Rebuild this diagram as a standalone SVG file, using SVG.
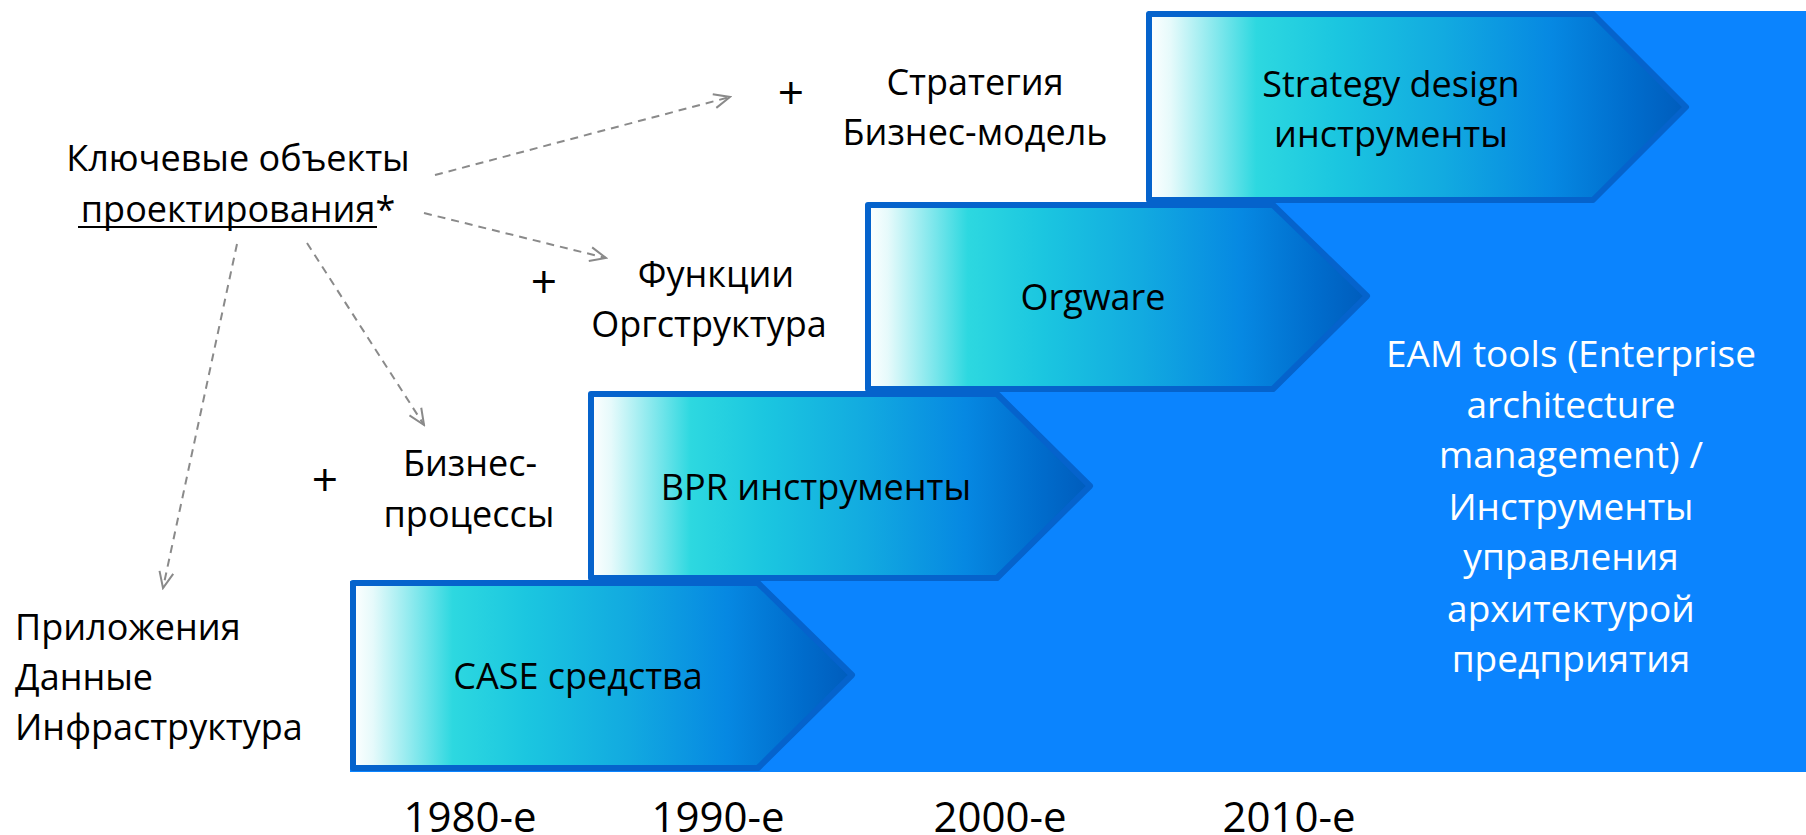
<svg xmlns="http://www.w3.org/2000/svg" width="1806" height="835" viewBox="0 0 1806 835">
  <defs>
    <linearGradient id="boxGrad" x1="0" y1="0" x2="1" y2="0">
      <stop offset="0" stop-color="#FFFFFF"/>
      <stop offset="0.04" stop-color="#E6FAFB"/>
      <stop offset="0.2" stop-color="#2DD8E0"/>
      <stop offset="0.35" stop-color="#1BC6E0"/>
      <stop offset="0.55" stop-color="#12AAE0"/>
      <stop offset="0.75" stop-color="#0688E2"/>
      <stop offset="0.9" stop-color="#006CCC"/>
      <stop offset="1" stop-color="#005CBC"/>
    </linearGradient>
    <marker id="openArrow" viewBox="0 0 20 20" refX="18" refY="10" markerWidth="20" markerHeight="20" markerUnits="userSpaceOnUse" orient="auto">
      <path d="M2,3 L18,10 L2,17" fill="none" stroke="#8A8A8A" stroke-width="2"/>
    </marker>
    <style>
      .lbl { font-family: "Open Sans", "Noto Sans", "DejaVu Sans", sans-serif; font-size: 36px; fill: #000000; }
      .plus { font-family: "Open Sans", "Noto Sans", "DejaVu Sans", sans-serif; font-size: 46px; fill: #000000; text-anchor: middle; }
      .mid { text-anchor: middle; }
      .box { fill: url(#boxGrad); stroke: #0563CC; stroke-width: 6; stroke-linejoin: round; }
      .eam { font-family: "Open Sans", "Noto Sans", "DejaVu Sans", sans-serif; font-size: 37px; fill: #FFFFFF; text-anchor: middle; }
      .year { font-family: "Open Sans", "Noto Sans", "DejaVu Sans", sans-serif; font-size: 42px; fill: #000000; text-anchor: middle; }
      .dash { fill: none; stroke: #8A8A8A; stroke-width: 2; stroke-dasharray: 8 6; marker-end: url(#openArrow); }
    </style>
  </defs>

  <rect width="1806" height="835" fill="#FFFFFF"/>

  <g id="background">
    <polygon points="350,772 1806,772 1806,11 1148,11 1148,203 866,203 866,392 590,392 590,581 350,581" fill="#0B84FE"/>
  </g>

  <g id="eam-text">
    <text class="eam" x="1571" y="367">EAM tools (Enterprise</text>
    <text class="eam" x="1571" y="418">architecture</text>
    <text class="eam" x="1571" y="468">management) /</text>
    <text class="eam" x="1571" y="520">Инструменты</text>
    <text class="eam" x="1571" y="570">управления</text>
    <text class="eam" x="1571" y="622">архитектурой</text>
    <text class="eam" x="1571" y="672">предприятия</text>
  </g>

  <g id="box-strategy">
    <path class="box" d="M1149,14 H1593 L1686,107 L1593,200 H1149 Z"/>
    <text class="lbl mid" x="1391" y="97">Strategy design</text>
    <text class="lbl mid" x="1391" y="147">инструменты</text>
  </g>

  <g id="box-orgware">
    <path class="box" d="M868,205 H1273 L1367,296 L1273,389 H868 Z"/>
    <text class="lbl mid" x="1093" y="310">Orgware</text>
  </g>

  <g id="box-bpr">
    <path class="box" d="M591,394 H997 L1090,486 L997,578 H591 Z"/>
    <text class="lbl mid" x="816" y="500">BPR инструменты</text>
  </g>

  <g id="box-case">
    <path class="box" d="M353,583 H758 L852,675 L758,768 H353 Z"/>
    <text class="lbl mid" x="578" y="689">CASE средства</text>
  </g>

  <g id="key-objects">
    <text class="lbl mid" x="238" y="171">Ключевые объекты</text>
    <text class="lbl mid" x="238" y="222">проектирования*</text>
    <line x1="78" y1="227" x2="377" y2="227" stroke="#000000" stroke-width="2"/>
  </g>

  <g id="strategy-objects">
    <text class="plus" x="791" y="109">+</text>
    <text class="lbl mid" x="975" y="95">Стратегия</text>
    <text class="lbl mid" x="975" y="145">Бизнес-модель</text>
  </g>

  <g id="function-objects">
    <text class="plus" x="544" y="298">+</text>
    <text class="lbl mid" x="716" y="287">Функции</text>
    <text class="lbl mid" x="709" y="337">Оргструктура</text>
  </g>

  <g id="process-objects">
    <text class="plus" x="325" y="496">+</text>
    <text class="lbl mid" x="470" y="476">Бизнес-</text>
    <text class="lbl mid" x="469" y="527">процессы</text>
  </g>

  <g id="app-objects">
    <text class="lbl" x="15" y="640">Приложения</text>
    <text class="lbl" x="15" y="690">Данные</text>
    <text class="lbl" x="15" y="740">Инфраструктура</text>
  </g>

  <g id="connectors">
    <line class="dash" x1="435" y1="175" x2="730" y2="97"/>
    <line class="dash" x1="424" y1="213" x2="606" y2="258"/>
    <line class="dash" x1="307" y1="243" x2="424" y2="425"/>
    <line class="dash" x1="237" y1="244" x2="163" y2="588"/>
  </g>

  <g id="years">
    <text class="year" x="470" y="832">1980-е</text>
    <text class="year" x="718" y="832">1990-е</text>
    <text class="year" x="1000" y="832">2000-е</text>
    <text class="year" x="1289" y="832">2010-е</text>
  </g>
</svg>
